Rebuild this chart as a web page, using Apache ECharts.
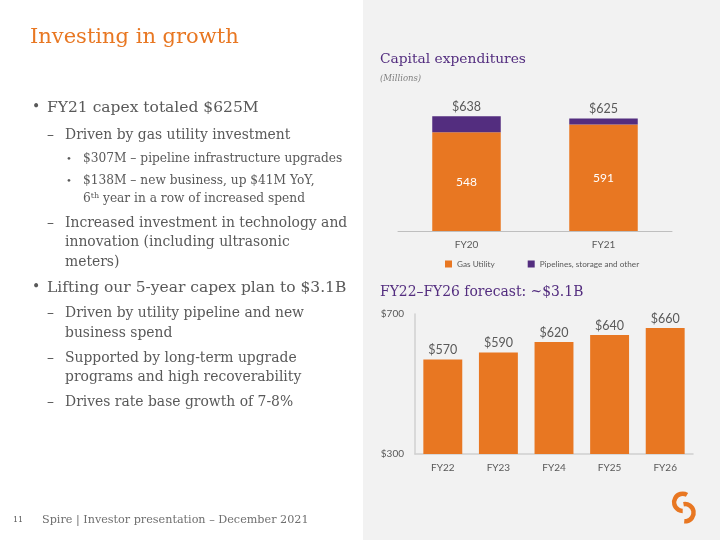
<!DOCTYPE html>
<html>
<head>
<meta charset="utf-8">
<script src="https://cdn.jsdelivr.net/npm/echarts@6/dist/echarts.min.js"></script>
<style>
html,body{margin:0;padding:0;background:#fff;}
#c{width:720px;height:540px;}
</style>
</head>
<body>
<div id="c"></div>
<script>
// ---- data ----
const histCategories = ['FY20', 'FY21'];
const gasUtility = [548, 591];
const pipelinesOther = [90, 34];
const histTotals = [638, 625];
const seriesNames = ['Gas Utility', 'Pipelines, storage and other'];

const fcCategories = ['FY22', 'FY23', 'FY24', 'FY25', 'FY26'];
const fcValues = [570, 590, 620, 640, 660];
const fcTicks = [300, 700];

// ---- styles ----
const ORANGE = '#E87722';
const PURPLE = '#532D7F';
const GRAY = '#595959';
const SERIF = '"DejaVu Serif", Georgia, serif';
const SANS = 'Lato, "Open Sans", sans-serif';

function t(x, y, text, size, opts) {
  opts = opts || {};
  return {
    type: 'text', left: x, top: y - size * 0.6 + 2, z: 10,
    style: Object.assign({
      text: text, fontSize: size, fontFamily: SERIF,
      fill: opts.fill || GRAY
    }, opts.style || {})
  };
}

const B1 = 15.5, B2 = 13.9, B3 = 12.2;

const graphics = [
  {type: 'rect', shape: {x: 363, y: 0, width: 357, height: 540}, style: {fill: '#F2F2F2'}, z: -10},
  t(30, 38, 'Investing in growth', 21, {fill: ORANGE}),
  t(32, 107, '•', 14),
  t(47, 107, 'FY21 capex totaled $625M', B1),
  t(47, 135, '–', B2),
  t(65, 135, 'Driven by gas utility investment', B2),
  t(66, 158, '•', 10),
  t(83, 158, '$307M – pipeline infrastructure upgrades', B3),
  t(66, 180, '•', 10),
  t(83, 180, '$138M – new business, up $41M YoY,', B3),
  {
    type: 'text', left: 83, top: 192, z: 10,
    style: {
      text: '6{sup|th} year in a row of increased spend',
      fontSize: B3, fontFamily: SERIF, fill: GRAY,
      rich: {sup: {fontSize: 8, fontFamily: SERIF, fill: GRAY, padding: [0, 0, 6, 0]}}
    }
  },
  t(47, 223, '–', B2),
  t(65, 223, 'Increased investment in technology and', B2),
  t(65, 242, 'innovation (including ultrasonic', B2),
  t(65, 262, 'meters)', B2),
  t(32, 287, '•', 14),
  t(47, 287, 'Lifting our 5-year capex plan to $3.1B', B1),
  t(47, 313, '–', B2),
  t(65, 313, 'Driven by utility pipeline and new', B2),
  t(65, 333, 'business spend', B2),
  t(47, 358, '–', B2),
  t(65, 358, 'Supported by long-term upgrade', B2),
  t(65, 377, 'programs and high recoverability', B2),
  t(47, 402, '–', B2),
  t(65, 402, 'Drives rate base growth of 7-8%', B2),
  t(13, 519, '11', 8),
  t(42, 519, 'Spire | Investor presentation – December 2021', 11.2, {style: {fill: '#6f6f6f'}}),
  t(380, 59, 'Capital expenditures', 13.8, {fill: PURPLE}),
  t(380, 77, '(Millions)', 8.5, {fill: '#7f7f7f', style: {fontStyle: 'italic'}}),
  t(380, 292, 'FY22–FY26 forecast: ~$3.1B', 13.9, {fill: PURPLE}),
  {type: 'arc',
   shape: {cx: 682.7, cy: 502.3, r: 8.6, startAngle: -Math.PI * 60 / 180, endAngle: Math.PI * 90 / 180, clockwise: false},
   style: {stroke: ORANGE, lineWidth: 4.5, fill: null}, z: 10},
  {type: 'arc',
   shape: {cx: 685, cy: 512.7, r: 8.6, startAngle: -Math.PI * 100 / 180, endAngle: Math.PI * 95 / 180, clockwise: true},
   style: {stroke: ORANGE, lineWidth: 4.5, fill: null}, z: 10}
];

const chart = echarts.init(document.getElementById('c'), null, {renderer: 'canvas'});
chart.setOption({
  backgroundColor: '#ffffff',
  animation: false,
  textStyle: {fontFamily: SANS},
  graphic: graphics,
  legend: {
    data: seriesNames, left: 440, top: 255, itemWidth: 7, itemHeight: 7, itemGap: 33,
    icon: 'rect', textStyle: {color: GRAY, fontSize: 8.2, fontFamily: SANS}
  },
  grid: [
    {left: 398, right: 48, top: 105, bottom: 309},
    {left: 415, right: 27, top: 314, bottom: 86}
  ],
  xAxis: [
    {type: 'category', gridIndex: 0, data: histCategories,
     axisLine: {lineStyle: {color: '#BFBFBF', width: 1}}, axisTick: {show: false},
     axisLabel: {color: GRAY, fontSize: 10, margin: 9, fontFamily: SANS}},
    {type: 'category', gridIndex: 1, data: fcCategories,
     axisLine: {lineStyle: {color: '#D0D0D0', width: 1.5}}, axisTick: {show: false},
     axisLabel: {color: GRAY, fontSize: 10, margin: 9, fontFamily: SANS}}
  ],
  yAxis: [
    {type: 'value', gridIndex: 0, min: 0, max: 700, show: false, splitLine: {show: false}},
    {type: 'value', gridIndex: 1, min: fcTicks[0], max: fcTicks[1], interval: fcTicks[1] - fcTicks[0],
     axisLine: {show: true, lineStyle: {color: '#D0D0D0', width: 1.5}}, axisTick: {show: false},
     splitLine: {show: false},
     axisLabel: {color: GRAY, fontSize: 10, margin: 11, fontFamily: SANS, formatter: v => '$' + v}}
  ],
  series: [
    {name: seriesNames[0], type: 'bar', stack: 'h', xAxisIndex: 0, yAxisIndex: 0, data: gasUtility,
     barWidth: '50%', itemStyle: {color: ORANGE},
     label: {show: true, position: 'inside', color: '#fff', fontSize: 12, fontFamily: SANS}},
    {name: seriesNames[1], type: 'bar', stack: 'h', xAxisIndex: 0, yAxisIndex: 0, data: pipelinesOther,
     barWidth: '50%', itemStyle: {color: PURPLE},
     label: {show: true, position: 'top', distance: 3, color: GRAY, fontSize: 12.5, fontFamily: SANS,
       formatter: p => '$' + histTotals[p.dataIndex]}},
    {name: 'Forecast', type: 'bar', xAxisIndex: 1, yAxisIndex: 1, data: fcValues,
     barWidth: '70%', itemStyle: {color: ORANGE},
     label: {show: true, position: 'top', distance: 3, color: GRAY, fontSize: 12.5, fontFamily: SANS,
       formatter: p => '$' + p.value}}
  ]
});
</script>
</body>
</html>
